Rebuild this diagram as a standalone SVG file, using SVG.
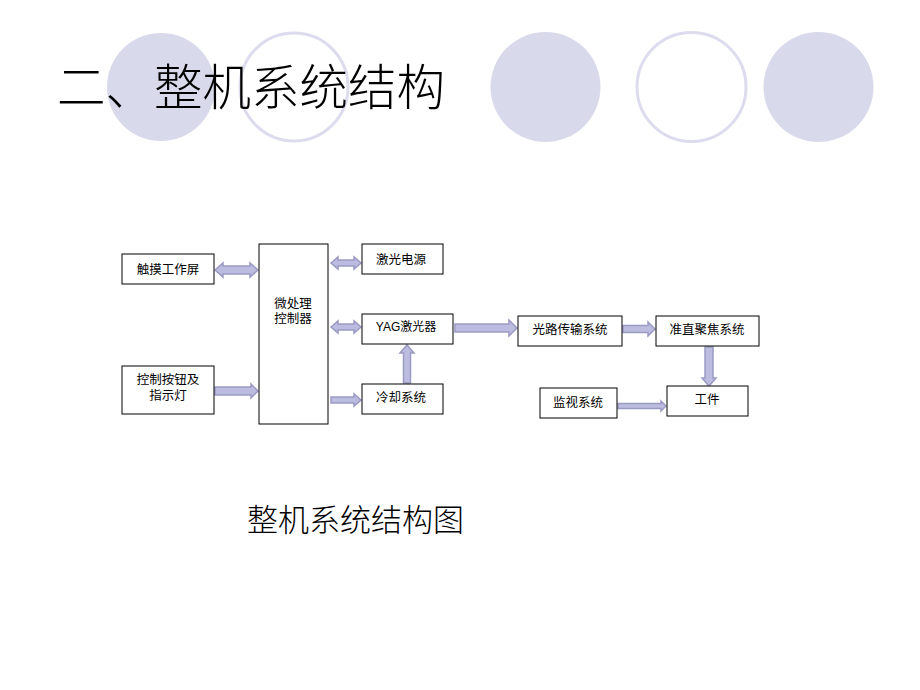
<svg xmlns="http://www.w3.org/2000/svg" width="920" height="690" viewBox="0 0 920 690">
<style>
.deco-f{fill:#d9d9ec;}
.deco-o{fill:none;stroke:#dcdcee;stroke-width:3;}
.box{fill:#ffffff;stroke:#000000;stroke-width:1;}
.lbl{font-family:"Liberation Sans","Noto Sans CJK SC",sans-serif;font-size:12.5px;fill:#000;text-anchor:middle;}
.arr{fill:#bcbce0;stroke:#9a9ac4;stroke-width:1.5;stroke-linejoin:miter;}
.title{font-family:"Noto Sans CJK SC",sans-serif;font-size:48.5px;font-weight:300;fill:#000;}
.sub{font-family:"Noto Sans CJK SC",sans-serif;font-size:31px;font-weight:300;fill:#000;}
</style>
<rect width="920" height="690" fill="#ffffff"/>
<g id="decor">
<circle class="deco-f" cx="161" cy="87" r="54"/>
<circle class="deco-o" cx="294" cy="87" r="54"/>
<circle class="deco-f" cx="545.5" cy="87" r="55"/>
<circle class="deco-o" cx="691.5" cy="87" r="54.5"/>
<circle class="deco-f" cx="818.5" cy="87" r="55"/>
</g>
<text class="title" x="57" y="105">二、整机系统结构</text>
<g id="connectors">
<path class="arr" d="M215,270 L223,263 L223,266 L250,266 L250,263 L258,270 L250,277 L250,274 L223,274 L223,277 Z"/>
<path class="arr" d="M331,263 L338,257 L338,260 L354,260 L354,257 L361,263 L354,269 L354,266 L338,266 L338,269 Z"/>
<path class="arr" d="M331,327 L338,321 L338,324 L354,324 L354,321 L361,327 L354,333 L354,330 L338,330 L338,333 Z"/>
<path class="arr" d="M215,387 L251,387 L251,384 L258,391 L251,398 L251,395 L215,395 Z"/>
<path class="arr" d="M331,397 L354,397 L354,394 L361,400 L354,406 L354,403 L331,403 Z"/>
<path class="arr" d="M403.5,383 L403.5,353 L400,353 L407,345 L414,353 L410.5,353 L410.5,383 Z"/>
<path class="arr" d="M455,324 L509,324 L509,320 L517,328 L509,336 L509,332 L455,332 Z"/>
<path class="arr" d="M623,325.5 L648,325.5 L648,322 L655,329 L648,336 L648,332.5 L623,332.5 Z"/>
<path class="arr" d="M705,347 L713,347 L713,378 L716,378 L709,386 L702,378 L705,378 Z"/>
<path class="arr" d="M618,403.5 L661,403.5 L661,401 L666,406 L661,411 L661,408.5 L618,408.5 Z"/>
</g>
<g id="touch">
<rect class="box" x="122" y="254" width="92" height="30"/>
<text class="lbl" x="168" y="274">触摸工作屏</text>
</g>
<g id="buttons">
<rect class="box" x="122" y="366" width="92" height="48"/>
<text class="lbl" x="168" y="384">控制按钮及</text>
<text class="lbl" x="168" y="400">指示灯</text>
</g>
<g id="mcu">
<rect class="box" x="259" y="244" width="69" height="180"/>
<text class="lbl" x="293" y="308">微处理</text>
<text class="lbl" x="293" y="323">控制器</text>
</g>
<g id="laserpower">
<rect class="box" x="362" y="244" width="81" height="30"/>
<text class="lbl" x="401" y="264">激光电源</text>
</g>
<g id="yag">
<rect class="box" x="362" y="314" width="91" height="30"/>
<text class="lbl" x="406" y="331" style="font-size:12px">YAG激光器</text>
</g>
<g id="cooling">
<rect class="box" x="362" y="384" width="81" height="30"/>
<text class="lbl" x="401" y="402">冷却系统</text>
</g>
<g id="optical">
<rect class="box" x="518" y="316" width="104" height="30"/>
<text class="lbl" x="570" y="334">光路传输系统</text>
</g>
<g id="focus">
<rect class="box" x="656" y="316" width="103" height="30"/>
<text class="lbl" x="707" y="334">准直聚焦系统</text>
</g>
<g id="monitor">
<rect class="box" x="540" y="388" width="77" height="30"/>
<text class="lbl" x="578" y="407">监视系统</text>
</g>
<g id="workpiece">
<rect class="box" x="667" y="386" width="81" height="30"/>
<text class="lbl" x="707" y="404">工件</text>
</g>
<text class="sub" x="247" y="531">整机系统结构图</text>
</svg>
